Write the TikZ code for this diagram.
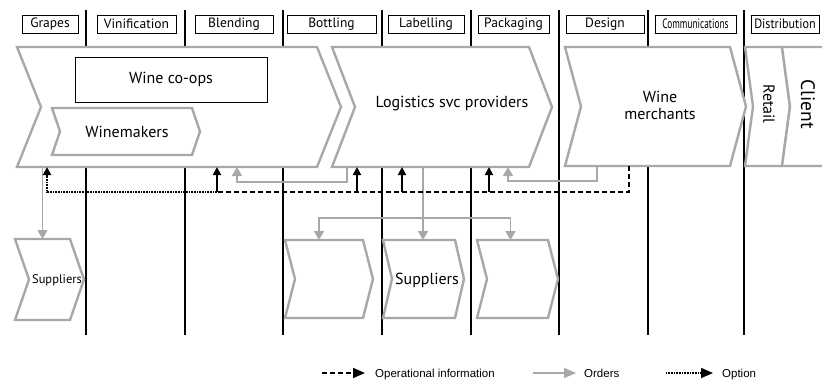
\documentclass[tikz,border=0pt]{standalone}
\usepackage{fontspec}
\usepackage{graphicx}
\setmainfont{PT Sans}
\newfontfamily\legendfont{Liberation Sans}
\usetikzlibrary{arrows.meta,backgrounds}
\definecolor{chevgray}{RGB}{168,168,168}

% chevron: name, x1, y1, x2, y2, depth
\newcommand\chevshape[6]{%
  \node[chevbox, minimum width={(#4-#2)*1pt}, minimum height={(#5-#3)*1pt}] (#1) at ({(#2+#4)/2},{(#3+#5)/2}) {};
  \begin{pgfonlayer}{background}
    \draw[chevline] (#1.north west) -- (#1.north east) -- ([xshift=#6pt]#1.east) -- (#1.south east)
      -- (#1.south west) -- ([xshift=#6pt]#1.west) -- cycle;
  \end{pgfonlayer}}

\begin{document}
\begin{tikzpicture}[x=1pt,y=-1pt,
    sepline/.style={line width=1.6pt},
    stagebox/.style={draw, line width=0.7pt, minimum height=18pt, inner sep=0pt, font=\fontsize{13.5}{15}\selectfont},
    chevbox/.style={inner sep=0pt, outer sep=0pt},
    chevline/.style={draw=chevgray, line width=2.4pt, fill=white, line join=miter},
    lbl/.style={font=\fontsize{16}{17}\selectfont, align=center, inner sep=0pt},
    order/.style={draw=chevgray, line width=1.6pt, -{Triangle[length=9pt,width=10pt]}},
    info/.style={line width=1.8pt, dash pattern=on 5pt off 3pt},
    infoup/.style={line width=1.8pt, -{Triangle[length=8pt,width=8pt]}},
    option/.style={line width=1.8pt, dash pattern=on 0.8pt off 0.8pt, -{Triangle[length=8pt,width=8pt]}},
    legtxt/.style={font=\legendfont\fontsize{11.5}{13}\selectfont, anchor=base west, inner sep=0pt}]
    \useasboundingbox (0,0) rectangle (822,380);

    % stages
    \node[stagebox, minimum width=56pt] (grapes) at (50,24) {Grapes};
    \node[stagebox, minimum width=79pt] (vinif) at (136.5,24) {Vinification};
    \node[stagebox, minimum width=78pt] (blend) at (234,24) {Blending};
    \node[stagebox, minimum width=89pt] (bottl) at (331.5,24) {Bottling};
    \node[stagebox, minimum width=76pt] (label) at (426,24) {Labelling};
    \node[stagebox, minimum width=71pt] (pack) at (513.5,24) {Packaging};
    \node[stagebox, minimum width=78pt] (design) at (605,24) {Design};
    \node[stagebox, minimum width=81pt] (comms) at (695.5,24) {\scalebox{0.69}[1]{Communications}};
    \node[stagebox, minimum width=68pt] (distr) at (785,24) {\scalebox{0.9}[1]{Distribution}};

    \begin{pgfonlayer}{background}
        \foreach \x in {86,185,283,382,471,559,648,744}
            \draw[sepline] (\x,10) -- (\x,335);
    \end{pgfonlayer}

    % actors
    \chevshape{vine}{17}{47}{317}{167}{24}
    \chevshape{logi}{332}{47}{529}{167}{23}
    \chevshape{merc}{565}{47}{730}{166}{16}
    \chevshape{retail}{745}{47}{782}{166}{8}
    \chevshape{client}{782}{47}{840}{166}{8}
    \chevshape{wmkr}{52}{108}{192}{155}{8}
    \chevshape{sup1}{15}{239}{70}{320}{14}
    \chevshape{sup2}{285}{240}{363}{318}{10}
    \chevshape{sup3}{383}{240}{455}{318}{9}
    \chevshape{sup4}{477}{240}{548}{318}{10}

    \node[lbl, draw, fill=white, line width=0.8pt, minimum width=192pt, minimum height=45pt] (coops) at (171,79.5) {Wine co-ops};
    \node[lbl] (wmkrtxt) at (127,132) {Winemakers};
    \node[lbl] (logitxt) at (452,104) {Logistics svc providers};
    \node[lbl] (merctxt) at (660,105) {Wine\\merchants};
    \node[lbl, rotate=-90] (retailtxt) at (769,104) {Retail};
    \node[lbl, rotate=-90, font=\fontsize{19.5}{21}\selectfont] (clienttxt) at (808,104) {Client};
    \node[lbl, font=\fontsize{12.5}{14}\selectfont] (sup1txt) at (57,280) {Suppliers};
    \node[lbl] (sup3txt) at (427,280) {Suppliers};

    % orders
    \draw[order] (vine.south -| sup1.north) -- (sup1.north);
    \draw[order] ([xshift=15pt]logi.south west) -- ++(0,15) -| ([xshift=-80pt]vine.south east);
    \draw[order] ([xshift=32pt]merc.south west) -- ++(0,15) -| ([xshift=-21pt]logi.south east);
    \coordinate (split) at (423,218);
    \draw[order] (logi.south -| split) -- (sup3.north -| split);
    \draw[order] (split) -| ([xshift=-5pt]sup2.north);
    \draw[order] (split) -| ([xshift=-2pt]sup4.north);

    % operational information
    \coordinate (bus) at (217,192);
    \coordinate (b2) at (357,192);
    \coordinate (b3) at (402,192);
    \coordinate (b4) at (489,192);
    \draw[info] ([xshift=64pt]merc.south west) |- (bus);
    \draw[infoup] (bus) -- (bus |- vine.south);
    \foreach \c in {b2,b3,b4}
        \draw[infoup] (\c) -- (\c |- logi.south);

    % option
    \draw[option] (bus) -| ([xshift=30pt]vine.south west);

    % legend
    \node[legtxt] (lginfo) at (375,377) {Operational information};
    \coordinate (lg1) at (322,373);
    \draw[info, -{Triangle[length=12pt,width=10pt]}] (lg1) -- ([xshift=-10pt]lginfo.base west |- lg1);
    \node[legtxt] (lgorder) at (584,377) {Orders};
    \coordinate (lg2) at (533,373);
    \draw[order, -{Triangle[length=12pt,width=10pt]}] (lg2) -- ([xshift=-8pt]lgorder.base west |- lg2);
    \node[legtxt] (lgopt) at (722,377) {Option};
    \coordinate (lg3) at (666,373);
    \draw[option, -{Triangle[length=12pt,width=10pt]}] (lg3) -- ([xshift=-9pt]lgopt.base west |- lg3);
\end{tikzpicture}
\end{document}
